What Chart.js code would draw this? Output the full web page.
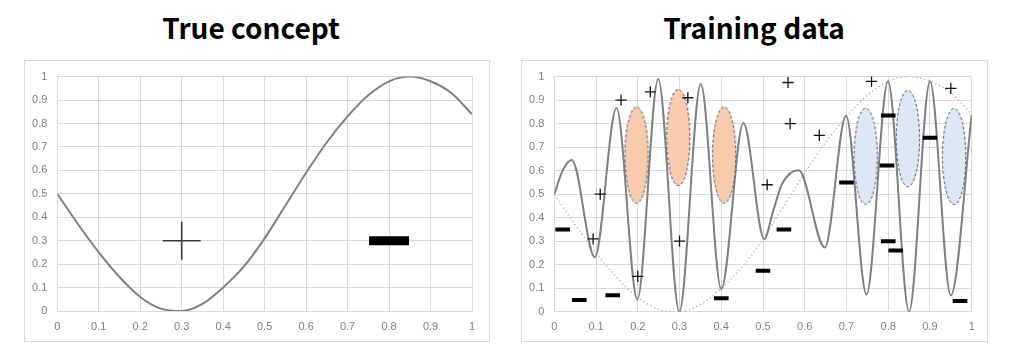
<!DOCTYPE html>
<html><head><meta charset="utf-8">
<script src="https://cdn.jsdelivr.net/npm/chart.js@4.4.1/dist/chart.umd.min.js"></script>
<style>
html,body{margin:0;padding:0;background:#fff;width:1009px;height:356px;overflow:hidden;}
.t{position:absolute;font-family:"Noto Sans CJK KR","Noto Sans",sans-serif;font-weight:bold;font-size:28px;line-height:28px;text-align:center;color:#000;top:13px;width:400px;}
.box{position:absolute;border:1px solid #d9d9d9;box-sizing:border-box;pointer-events:none;}
canvas{position:absolute;}
</style></head><body>
<div class="t" style="left:51px">True concept</div>
<div class="t" style="left:554px">Training data</div>
<canvas id="c1" width="466" height="282" style="left:24px;top:60px"></canvas>
<div class="box" style="left:24px;top:60px;width:466px;height:282px"></div>
<canvas id="c2" width="467" height="282" style="left:521px;top:60px"></canvas>
<div class="box" style="left:521px;top:60px;width:467px;height:282px"></div>
<script>
// ---- data ----
const tickValues = [0,0.1,0.2,0.3,0.4,0.5,0.6,0.7,0.8,0.9,1];
const trueX = [0,0.05,0.1,0.15,0.2,0.25,0.3,0.35,0.4,0.45,0.5,0.55,0.6,0.65,0.7,0.75,0.8,0.85,0.9,0.95,1];
const trueY = [0.50,0.37,0.25,0.145,0.06,0.01,0.00,0.03,0.10,0.19,0.31,0.45,0.59,0.72,0.83,0.92,0.98,1.00,0.98,0.93,0.84];

const conceptPlusX = [0.3];
const conceptPlusY = [0.3];
const conceptMinusX = [0.8];
const conceptMinusY = [0.3];

const fitX = [0,0.02,0.042,0.097,0.149,0.199,0.249,0.2995,0.351,0.400,0.453,0.503,0.523,0.546,0.5855,0.648,0.699,0.748,0.7995,0.85,0.90,0.95,1.0];
const fitY = [0.50,0.60,0.645,0.232,0.866,0.052,0.99,0.0,0.968,0.097,0.803,0.309,0.42,0.545,0.602,0.273,0.834,0.073,0.979,0.0,0.979,0.069,0.838];

const plusX = [0.093,0.11,0.16,0.20,0.23,0.30,0.32,0.51,0.56,0.565,0.635,0.76,0.95];
const plusY = [0.31,0.50,0.90,0.15,0.935,0.30,0.91,0.54,0.975,0.80,0.75,0.98,0.95];

const minusX = [0.02,0.06,0.14,0.40,0.50,0.55,0.70,0.797,0.80,0.80,0.818,0.90,0.972];
const minusY = [0.35,0.05,0.07,0.057,0.174,0.35,0.55,0.622,0.835,0.30,0.26,0.74,0.045];

const orangeX = [0.197,0.297,0.407];
const orangeY = [0.666,0.741,0.666];
const blueX = [0.746,0.847,0.958];
const blueY = [0.661,0.736,0.660];

// ---- helpers ----
const pts = (xs, ys) => xs.map((x, i) => ({x, y: ys[i]}));
const fmt = v => String(Math.round(v * 10) / 10);

function ellipseImg(fill) {
  const c = document.createElement('canvas');
  c.width = 26; c.height = 99;
  const g = c.getContext('2d');
  g.beginPath();
  g.ellipse(13, 49.5, 11.6, 48.0, 0, 0, Math.PI * 2);
  g.fillStyle = fill; g.fill();
  g.setLineDash([3, 2]);
  g.strokeStyle = '#3e4d6b'; g.lineWidth = 1; g.stroke();
  return c;
}

function axes(yw, xh) {
  const tickFont = {family: '"Liberation Sans", Arial, sans-serif', size: 11};
  const common = {
    type: 'linear', min: 0, max: 1,
    grid: {color: '#d9d9d9', lineWidth: 1, drawTicks: false},
    border: {color: '#d9d9d9', width: 1},
  };
  return {
    x: Object.assign({}, common, {
      afterBuildTicks: s => { s.ticks = tickValues.map(v => ({value: v})); },
      ticks: {color: '#7f7f7f', font: tickFont, padding: 9, maxRotation: 0, autoSkip: false, callback: fmt},
      afterFit: s => { s.height = xh; }
    }),
    y: Object.assign({}, common, {
      afterBuildTicks: s => { s.ticks = tickValues.map(v => ({value: v})); },
      ticks: {color: '#7f7f7f', font: tickFont, padding: 10, autoSkip: false, callback: fmt},
      afterFit: s => { s.width = yw; }
    })
  };
}

function baseOptions(pad, yw, xh) {
  return {
    responsive: false, animation: false,
    layout: {padding: pad, autoPadding: false},
    plugins: {legend: {display: false}, tooltip: {enabled: false}, title: {display: false}},
    events: [],
    scales: axes(yw, xh)
  };
}

// ---- chart 1: True concept ----
new Chart(document.getElementById('c1'), {
  type: 'scatter',
  data: {datasets: [
    {data: pts(conceptPlusX, conceptPlusY), pointStyle: 'cross', pointRadius: 19, borderColor: '#3a3a3a', pointBorderWidth: 1.6, order: 0},
    {data: pts(conceptMinusX, conceptMinusY), pointStyle: 'line', pointRadius: 20, borderColor: '#000', pointBorderWidth: 9, order: 0},
    {data: pts(trueX, trueY), showLine: true, pointRadius: 0, borderColor: '#808080', borderWidth: 2, cubicInterpolationMode: 'monotone', order: 2}
  ]},
  options: baseOptions({left: 0, top: 15, right: 18, bottom: 0}, 33.3, 31)
});

// ---- chart 2: Training data ----
new Chart(document.getElementById('c2'), {
  type: 'scatter',
  data: {datasets: [
    {data: pts(plusX, plusY), pointStyle: 'cross', pointRadius: 5.6, borderColor: '#111', pointBorderWidth: 1.3, order: 0},
    {data: pts(minusX, minusY), pointStyle: 'line', pointRadius: 7.3, borderColor: '#000', pointBorderWidth: 4, order: 0},
    {data: pts(orangeX, orangeY), pointStyle: ellipseImg('#f8cbad'), pointRadius: 12, order: 1},
    {data: pts(blueX, blueY), pointStyle: ellipseImg('#dde8f5'), pointRadius: 12, order: 1},
    {data: pts(fitX, fitY), showLine: true, pointRadius: 0, borderColor: '#808080', borderWidth: 2, cubicInterpolationMode: 'monotone', order: 2},
    {data: pts(trueX, trueY), showLine: true, pointRadius: 0, borderColor: '#bdbdbd', borderWidth: 1.5, borderDash: [1.5, 2.5], cubicInterpolationMode: 'monotone', order: 3}
  ]},
  options: baseOptions({left: 0, top: 14.3, right: 16.3, bottom: 0}, 33.3, 30.3)
});
</script>
</body></html>
